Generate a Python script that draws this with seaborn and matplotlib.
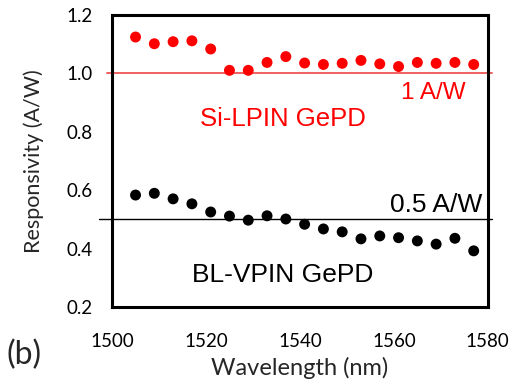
import matplotlib
matplotlib.use("Agg")
import matplotlib.pyplot as plt
import seaborn as sns
import pandas as pd
import numpy as np

wavelength = [1505, 1509, 1513, 1517, 1521, 1525, 1529, 1533, 1537, 1541,
              1545, 1549, 1553, 1557, 1561, 1565, 1569, 1573, 1577]
si_lpin = [1.124, 1.101, 1.108, 1.111, 1.083, 1.010, 1.010, 1.037, 1.057, 1.035,
           1.030, 1.034, 1.044, 1.032, 1.023, 1.037, 1.034, 1.037, 1.030]
bl_vpin = [0.583, 0.589, 0.570, 0.553, 0.525, 0.511, 0.497, 0.512, 0.501, 0.483,
           0.467, 0.457, 0.433, 0.443, 0.437, 0.426, 0.415, 0.435, 0.392]
series_names = ["Si-LPIN GePD", "BL-VPIN GePD"]
ref_levels = [1.0, 0.5]
x_ticks = [1500, 1520, 1540, 1560, 1580]
y_ticks = [0.2, 0.4, 0.6, 0.8, 1.0, 1.2]

df = pd.DataFrame({
    "Wavelength": wavelength * 2,
    "Responsivity": si_lpin + bl_vpin,
    "Device": [series_names[0]] * len(wavelength) + [series_names[1]] * len(wavelength),
})

sns.set_style("white")
plt.rcParams['font.family'] = ['Lato', 'DejaVu Sans']

fig = plt.figure(figsize=(5.14, 3.9), dpi=100)
ax = fig.add_axes([0.218, 0.213, 0.731, 0.749])

sns.scatterplot(data=df, x="Wavelength", y="Responsivity", hue="Device",
                palette={series_names[0]: "#ff0000", series_names[1]: "#000000"},
                s=62, linewidth=0, legend=False, ax=ax, zorder=3)

ax.set_xlim(x_ticks[0], x_ticks[-1])
ax.set_ylim(y_ticks[0], y_ticks[-1])

# reference lines (extend slightly beyond the frame)
ax.plot([1499.0, 1581.0], [ref_levels[0]] * 2, color="#f06060", lw=1.4,
        clip_on=False, zorder=2)
ax.plot([1497.3, 1581.0], [ref_levels[1]] * 2, color="#000000", lw=1.0,
        clip_on=False, zorder=2)

ax.set_xticks(x_ticks)
ax.set_yticks(y_ticks)
ax.set_xticklabels([str(t) for t in x_ticks])
ax.set_yticklabels([f"{t:.1f}" for t in y_ticks])
ax.tick_params(axis="both", direction="in", length=4, width=0.8,
               color="#b0b0b0", labelsize=13.5, colors="#b0b0b0",
               labelcolor="black")
ax.tick_params(axis="x", pad=19)
ax.tick_params(axis="y", pad=14)

ax.set_xlabel("Wavelength (nm)", fontsize=17, labelpad=5)
ax.set_ylabel("Responsivity (A/W)", fontsize=15.5, labelpad=16)

for sp in ax.spines.values():
    sp.set_visible(True)
    sp.set_color("black")
    sp.set_linewidth(2.2)

tf = ["Liberation Sans", "DejaVu Sans"]
ax.text(1536.4, 0.845, "Si-LPIN GePD", color="#ff0000", fontsize=18.5,
        family=tf, ha="center", va="center")
ax.text(1568.4, 0.932, "1 A/W", color="#ff0000", fontsize=17.5,
        family=tf, ha="center", va="center")
ax.text(1568.9, 0.549, "0.5 A/W", color="black", fontsize=19,
        family=tf, ha="center", va="center")
ax.text(1536.4, 0.31, "BL-VPIN GePD", color="black", fontsize=19,
        family=tf, ha="center", va="center")

fig.text(0.047, 0.089, "(b)", fontsize=23, ha="center", va="center")

fig.savefig("out.png", dpi=100)
